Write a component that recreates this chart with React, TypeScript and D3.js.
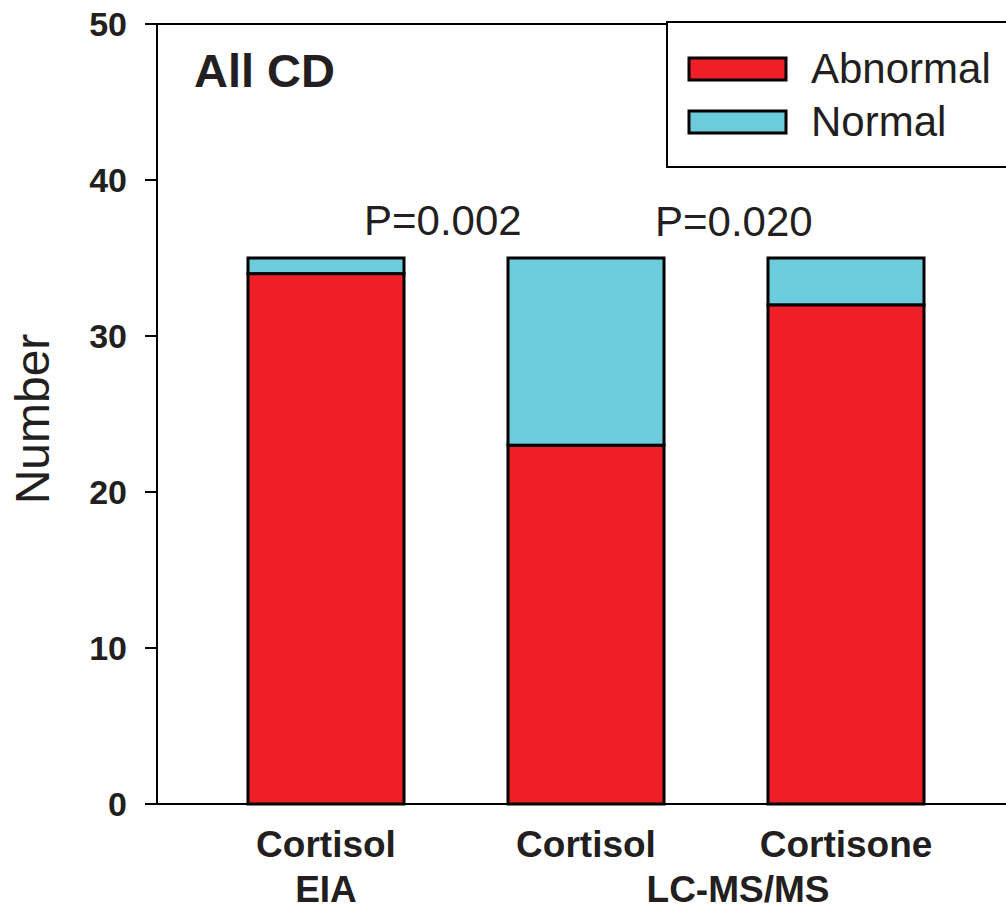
import * as d3 from "d3";

// values
const categories = ["Cortisol EIA", "Cortisol LC", "Cortisone LC"];
const catLabels = ["Cortisol", "Cortisol", "Cortisone"];
const abnormal = [34, 23, 32];
const normal = [1, 12, 3];
const yTicks = [0, 10, 20, 30, 40, 50];
const seriesKeys = ["Abnormal", "Normal"];
const pValues = ["P=0.002", "P=0.020"];

const width = 1006;
const height = 911;
const font = "'Liberation Sans', Arial, Helvetica, sans-serif";
const ink = "#231F20";
const colors = { Abnormal: "#EE1F26", Normal: "#6CCCDC" };

const App = () => {
  const x = d3
    .scaleBand()
    .domain(categories)
    .range([157, 1015])
    .paddingInner(0.4)
    .paddingOuter(0.35);

  const y = d3.scaleLinear().domain([0, 50]).range([804, 24]);

  const rows = categories.map((c, i) => ({ cat: c, Abnormal: abnormal[i], Normal: normal[i] }));
  const stacked = d3.stack().keys(seriesKeys)(rows as any);

  const cx = (i) => x(categories[i]) + x.bandwidth() / 2;

  return (
    <svg
      width={width}
      height={height}
      viewBox={`0 0 ${width} ${height}`}
      style={{ position: "absolute", left: 0, top: 0, background: "#fff" }}
      fontFamily={font}
    >
      {/* bars */}
      <g className="bars">
        {stacked.map((s) =>
          s.map((d, i) => (
            <rect
              key={s.key + i}
              x={x(categories[i])}
              y={y(d[1])}
              width={x.bandwidth()}
              height={y(d[0]) - y(d[1])}
              fill={colors[s.key]}
              stroke="#000"
              strokeWidth={3}
            />
          ))
        )}
      </g>

      {/* frame */}
      <line x1={145} x2={1010} y1={y(50)} y2={y(50)} stroke="#000" strokeWidth={2} />
      <line x1={145} x2={1010} y1={y(0)} y2={y(0)} stroke="#000" strokeWidth={2} />
      <line x1={157} x2={157} y1={y(50)} y2={y(0)} stroke="#000" strokeWidth={2} />

      {/* y axis */}
      <g className="y-axis">
        {yTicks.map((t) => (
          <g key={t}>
            <line x1={145} x2={157} y1={y(t)} y2={y(t)} stroke="#000" strokeWidth={2} />
            <text
              x={127}
              y={y(t)}
              dy="0.36em"
              textAnchor="end"
              fontSize={34}
              fontWeight="bold"
              fill={ink}
            >
              {t}
            </text>
          </g>
        ))}
      </g>
      <text
        transform={`translate(49,419) rotate(-90)`}
        textAnchor="middle"
        fontSize={48}
        fill={ink}
      >
        Number
      </text>

      {/* x labels */}
      {catLabels.map((l, i) => (
        <text key={i} x={cx(i)} y={857} textAnchor="middle" fontSize={37} fontWeight="bold" fill={ink}>
          {l}
        </text>
      ))}
      <text x={cx(0)} y={902} textAnchor="middle" fontSize={37} fontWeight="bold" fill={ink}>
        EIA
      </text>
      <text x={(cx(1) + cx(2)) / 2 + 22} y={902} textAnchor="middle" fontSize={37} fontWeight="bold" fill={ink}>
        LC-MS/MS
      </text>

      {/* panel title */}
      <text x={194} y={87} fontSize={47} fontWeight="bold" fill={ink}>
        All CD
      </text>

      {/* p values */}
      <text x={364} y={235} fontSize={42} fill={ink}>
        {pValues[0]}
      </text>
      <text x={655} y={236} fontSize={42} fill={ink}>
        {pValues[1]}
      </text>

      {/* legend */}
      <g className="legend">
        <rect x={667} y={22} width={400} height={145} fill="#fff" stroke="#000" strokeWidth={2} />
        {seriesKeys.map((k, i) => (
          <g key={k}>
            <rect
              x={689}
              y={58 + i * 53}
              width={97}
              height={22}
              fill={colors[k]}
              stroke="#000"
              strokeWidth={3}
            />
            <text x={811} y={83 + i * 53} fontSize={42} fill={ink}>
              {k}
            </text>
          </g>
        ))}
      </g>
    </svg>
  );
};

export default App;
